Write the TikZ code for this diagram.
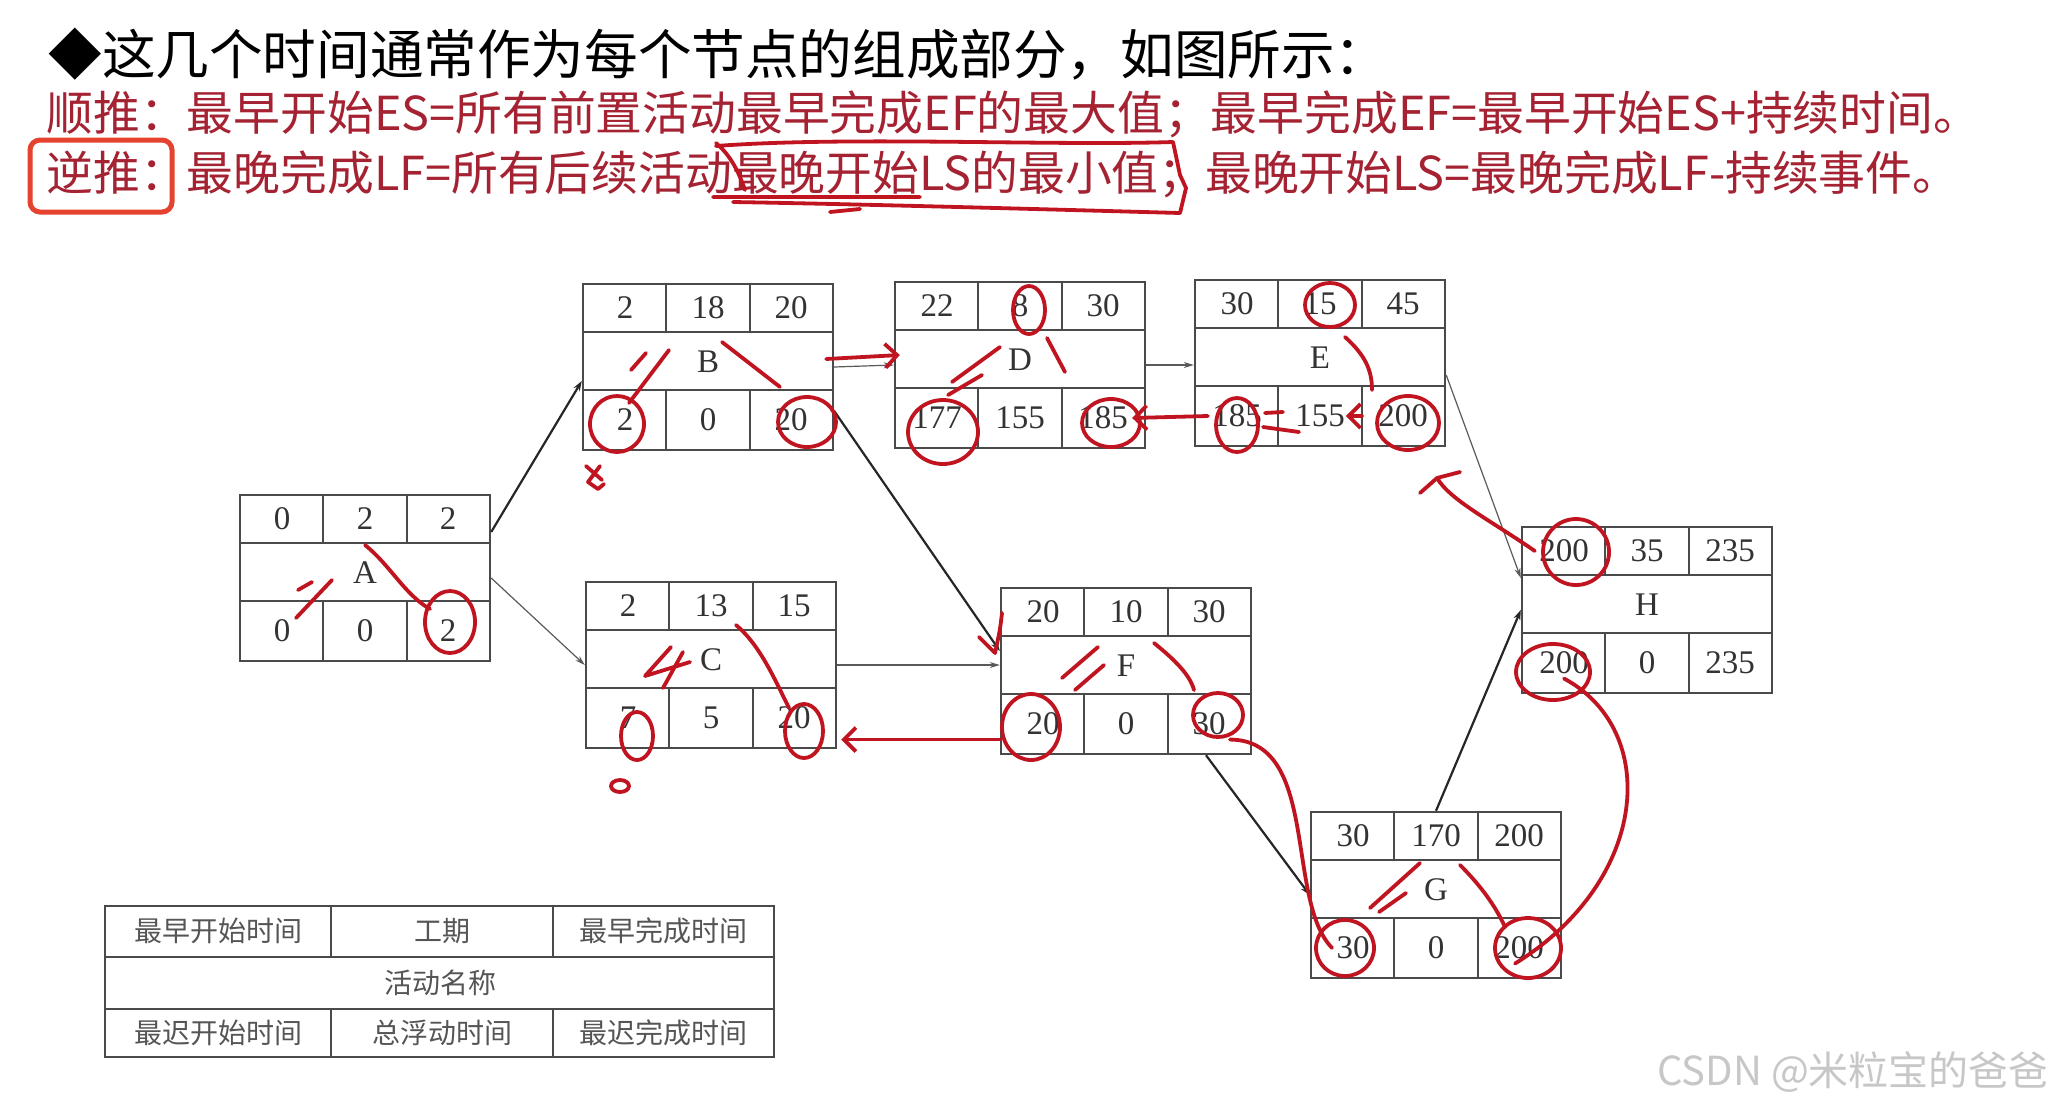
\documentclass[tikz,border=0pt]{standalone}
\usepackage{fontspec}
\setmainfont{Liberation Serif}
\newfontfamily\cjk{Noto Sans CJK SC}
\usetikzlibrary{arrows.meta,calc}

\definecolor{boxgray}{HTML}{4A4A4A}
\definecolor{numgray}{HTML}{333333}
\definecolor{leggray}{HTML}{555555}
\definecolor{linkblack}{HTML}{262626}
\definecolor{linkgray}{HTML}{5A5A5A}
\definecolor{ruletext}{HTML}{A52232}
\definecolor{hiliter}{HTML}{E5432F}
\definecolor{inkred}{HTML}{C01520}

% one activity node: name, x, y (top left), ES, duration, EF, LS, float, LF
\newcommand{\actbox}[9]{%
  \begin{scope}[shift={(#2,#3)}]
    \node[boxframe] (#1) at (125,83) {};
    \draw[boxline] (0,48) -- (250,48) (0,106) -- (250,106)
      (83,0) -- (83,48) (167,0) -- (167,48)
      (83,106) -- (83,166) (167,106) -- (167,166);
    \node[num] (#1-es) at (42,24) {#4};
    \node[num] (#1-d) at (125,24) {#5};
    \node[num] (#1-ef) at (208,24) {#6};
    \node[num] (#1-name) at (125,78) {#1};
    \node[num] (#1-ls) at (42,136) {#7};
    \node[num] (#1-tf) at (125,136) {#8};
    \node[num] (#1-lf) at (208,136) {#9};
  \end{scope}}

\begin{document}
\begin{tikzpicture}[x=0.5pt,y=-0.5pt,
    boxframe/.style={draw=boxgray,line width=1.2pt,minimum width=125pt,minimum height=83pt,inner sep=0pt},
    boxline/.style={draw=boxgray,line width=1.1pt},
    num/.style={font=\fontsize{16.5pt}{18pt}\selectfont,text=numgray,inner sep=2pt},
    legtext/.style={font=\cjk\fontsize{14pt}{16pt}\selectfont,text=leggray},
    link/.style={draw=linkblack,line width=1.1pt,-{Stealth[length=5pt,width=3.5pt]}},
    thinlink/.style={draw=linkgray,line width=0.6pt,-{Stealth[length=5pt,width=3pt]}},
    ink/.style={draw=inkred,line width=1.9pt,line cap=round,line join=round},
    inkarrow/.style={ink,-{Straight Barb[length=6pt,width=12pt]}}]
    \fill[white] (0,0) rectangle (2054,1104);
    \useasboundingbox (0,0) rectangle (2054,1104);

    \node[anchor=west,inner sep=0pt,font=\cjk\fontsize{26.8pt}{30pt}\selectfont,text=black] (title) at (48,54)
        {◆这几个时间通常作为每个节点的组成部分，如图所示：};
    \node[anchor=west,inner sep=0pt,font=\cjk\fontsize{23.4pt}{28pt}\selectfont,text=ruletext] (forward) at (46,114)
        {顺推：最早开始ES=所有前置活动最早完成EF的最大值；最早完成EF=最早开始ES+持续时间。};
    \node[anchor=west,inner sep=0pt,font=\cjk\fontsize{23.4pt}{28pt}\selectfont,text=ruletext] (backward) at (46,174)
        {逆推：最晚完成LF=所有后续活动最晚开始LS的最小值；最晚开始LS=最晚完成LF-持续事件。};
    \draw[hiliter,line width=2.5pt,rounded corners=5pt] (30,140) rectangle (172,212);

    \actbox{A}{240}{495}{0}{2}{2}{0}{0}{2}
    \actbox{B}{583}{284}{2}{18}{20}{2}{0}{20}
    \actbox{C}{586}{582}{2}{13}{15}{7}{5}{20}
    \actbox{D}{895}{282}{22}{8}{30}{177}{155}{185}
    \actbox{E}{1195}{280}{30}{15}{45}{185}{155}{200}
    \actbox{F}{1001}{588}{20}{10}{30}{20}{0}{30}
    \actbox{G}{1311}{812}{30}{170}{200}{30}{0}{200}
    \actbox{H}{1522}{527}{200}{35}{235}{200}{0}{235}

    \draw[link] ([yshift=23pt]A.east) -- ([yshift=-7pt]B.west);
    \draw[thinlink] (A.east) -- (C.west);
    \draw[link] ([yshift=-22pt]B.east) -- ([yshift=10pt]F.west);
    \draw[thinlink] (C.east) -- (C.east -| F.west);
    \draw[thinlink] (B.east) -- (D.west);
    \draw[thinlink] (D.east) -- (D.east -| E.west);
    \draw[thinlink] ([yshift=-6pt]E.east) -- ([yshift=16pt]H.west);
    \draw[link] ([xshift=40pt]F.south) -- (G.west);
    \draw[link] (G.north) -- (H.west);

    \draw[boxline] (105,906) rectangle (774,1057);
    \draw[boxline] (105,957) -- (774,957) (105,1009) -- (774,1009)
        (331,906) -- (331,957) (553,906) -- (553,957)
        (331,1009) -- (331,1057) (553,1009) -- (553,1057);
    \foreach \x/\y/\t [count=\i] in {218/931/最早开始时间, 442/931/工期, 663/931/最早完成时间,
        440/983/活动名称, 218/1033/最迟开始时间, 442/1033/总浮动时间, 663/1033/最迟完成时间}
        {\node[legtext] (leg-\i) at (\x,\y) {\t};}

    \foreach \c/\dx/\dy/\rx/\ry in {A-lf/2/-9/25/31, B-ls/-8/4/27/28, B-lf/16/2/29/25,
        C-ls/9/18/16/24, C-lf/10/13/19/27, D-d/9/4/16/24, D-ls/6/14/35/32, D-lf/8/5/29/24,
        E-d/10/1/25/22, E-ls/0/9/21/27, E-lf/5/7/31/27, F-ls/-12/3/29/33, F-lf/9/-9/25/22,
        G-ls/-8/0/29/28, G-lf/9/0/33/30, H-es/12/1/33/33, H-ls/-11/9/37/28}
        {\draw[ink] ($(\c)+(\dx,\dy)$) ellipse [x radius=\rx, y radius=\ry];}

    \draw[ink] (365,545) .. controls (390,565) and (405,595) .. (430,609)
        (298,590) -- (312,582) (296,618) -- (332,580);
    \draw[ink] (722,342) -- (780,387) (631,370) -- (646,353) (629,403) -- (669,350)
        (586,466) -- (602,480) (600,466) -- (588,482) -- (598,489) -- (604,484);
    \draw[ink] (671,647) -- (645,676) -- (690,662) (683,652) -- (663,688)
        (736,625) .. controls (760,645) and (775,680) .. (789,708);
    \draw[ink] (620,786) ellipse [x radius=9, y radius=6];
    \draw[ink] (1047,338) -- (1065,372) (952,382) -- (1000,347) (948,395) -- (982,375);
    \draw[ink] (1345,337) .. controls (1365,355) and (1372,370) .. (1372,390)
        (1265,413) -- (1283,412) (1263,427) -- (1299,432);
    \draw[ink] (1154,643) .. controls (1175,660) and (1190,675) .. (1194,690)
        (1062,678) -- (1098,647) (1075,690) -- (1104,665)
        (1002,613) .. controls (1000,630) .. (995,653) -- (979,637);
    \draw[ink] (1370,908) -- (1420,863) (1379,912) -- (1406,893)
        (1460,865) .. controls (1480,885) and (1495,905) .. (1505,927);
    \draw[ink] (716,146) .. controls (850,136) and (1050,146) .. (1173,142)
        -- (1180,175) -- (1186,188) -- (1180,213)
        .. controls (1000,208) and (850,204) .. (733,202)
        (713,197) -- (920,197) (830,212) -- (860,209)
        (716,143) .. controls (730,155) and (738,170) .. (745,190);

    \coordinate (Etip) at (1437,478);
    \draw[inkarrow] ([shift={(-4pt,4pt)}]B.east) -- ([shift={(3pt,5pt)}]D.west);
    \draw[inkarrow] (E-ls.west) -- (D-lf.east);
    \draw[inkarrow] ([xshift=-6pt]E-lf.west) -- ([xshift=-14pt]E-lf.west);
    \draw[inkarrow] (F.west |- F-ls.south) -- ([xshift=2pt]C.east |- F-ls.south);
    \draw[ink] (H-es.west) .. controls (1490,520) and (1450,500) .. (Etip)
        (1420,493) -- (Etip) -- (1460,472);
    \draw[ink] (H-ls.south) .. controls (1660,730) and (1650,880) .. ([xshift=-2pt]G-lf.south);
    \draw[ink] (F-lf.south east) .. controls (1320,740) and (1285,900) .. (G-ls.west);

    \node[anchor=west,inner sep=0pt,font=\cjk\fontsize{20pt}{24pt}\selectfont,text=black!22] (mark) at (1657,1072)
        {CSDN @米粒宝的爸爸};
\end{tikzpicture}
\end{document}
